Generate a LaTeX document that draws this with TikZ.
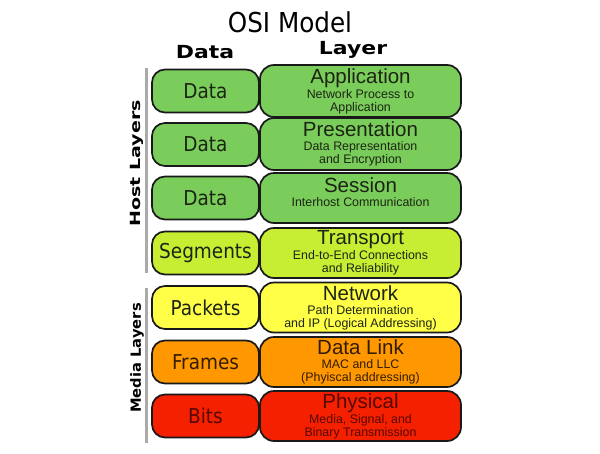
\documentclass[tikz,border=0pt]{standalone}
\usepackage{fontspec}
\setmainfont{Liberation Sans}
\newfontfamily\condfont{DejaVu Sans Condensed}
\newfontfamily\dvsfont{DejaVu Sans}
\definecolor{osigreen}{RGB}{122,205,90}
\definecolor{osilime}{RGB}{200,238,52}
\definecolor{osiyellow}{RGB}{255,255,72}
\definecolor{osiorange}{RGB}{255,152,0}
\definecolor{osired}{RGB}{245,32,0}
\definecolor{txtdark}{RGB}{28,36,20}
\definecolor{txtbrown}{RGB}{50,28,0}
\definecolor{txtred}{RGB}{85,8,0}
\definecolor{bargray}{RGB}{170,170,170}
\newcommand{\laytext}[2]{{\fontsize{20.5}{20}\selectfont #1}\\[1pt]#2}
\tikzset{
  x=1pt, y=-1pt,
  databox/.style={draw=black!90, line width=1.7pt, rounded corners=13pt,
    minimum width=107pt, minimum height=43pt, inner sep=0pt,
    font=\condfont\fontsize{20.5}{22}\selectfont, text=txtdark},
  layerbox/.style={draw=black!90, line width=1.7pt, rounded corners=14pt,
    minimum width=201pt, minimum height=50pt, inner sep=0pt, align=center,
    font=\fontsize{12.4}{13}\selectfont, text=txtdark},
  header/.style={font=\dvsfont\bfseries\fontsize{18}{20}\selectfont, inner sep=0pt},
  sidelabel/.style={font=\dvsfont\bfseries\fontsize{14}{16}\selectfont, inner sep=0pt, rotate=90},
  sidebar/.style={draw=bargray, line width=3pt}
}
\begin{document}
\begin{tikzpicture}
\path[use as bounding box, fill=white] (0,0) rectangle (600,453);
% title and headers
\node[font=\condfont\fontsize{27.4}{30}\selectfont, inner sep=0pt] (title) at (290,22) {OSI Model};
\node[header] (hdata) at (205,52) {\scalebox{1.22}[1]{Data}};
\node[header] (hlayer) at (353,50) {\scalebox{1.22}[1]{Layer}};
% side bars
\coordinate (hbtop) at (146,68);
\coordinate (hbbot) at (146,273);
\coordinate (mbtop) at (146,288);
\coordinate (mbbot) at (146,443);
\draw[sidebar] (hbtop) -- (hbbot);
\draw[sidebar] (mbtop) -- (mbbot);
\node[sidelabel] (host) at (136.5,163.5) {\scalebox{1.36}[1]{Host Layers}};
\node[sidelabel] (media) at (137,358) {\scalebox{1.05}[1]{Media Layers}};
% left data boxes
\node[databox, fill=osigreen] (d1) at (205.5,91) {Data};
\node[databox, fill=osigreen] (d2) at (205.5,144.5) {Data};
\node[databox, fill=osigreen] (d3) at (205.5,198) {Data};
\node[databox, fill=osilime] (d4) at (205.5,253) {Segments};
\node[databox, fill=osiyellow] (d5) at (205.5,307.5) {Packets};
\node[databox, fill=osiorange, text=txtbrown] (d6) at (205.5,362) {Frames};
\node[databox, fill=osired, text=txtred] (d7) at (205.5,416) {Bits};
% right layer boxes
\node[layerbox, fill=osigreen, minimum height=52pt] (l1) at (360.5,91) {\laytext{Application}{Network Process to\\Application}};
\node[layerbox, fill=osigreen, minimum height=52pt] (l2) at (360.5,144) {\laytext{Presentation}{Data Representation\\and Encryption}};
\node[layerbox, fill=osigreen, text depth=11pt] (l3) at (360.5,198) {\laytext{Session}{Interhost Communication}};
\node[layerbox, fill=osilime] (l4) at (360.5,253) {\laytext{Transport}{End-to-End Connections\\and Reliability}};
\node[layerbox, fill=osiyellow] (l5) at (360.5,307.5) {\laytext{Network}{Path Determination\\and IP (Logical Addressing)}};
\node[layerbox, fill=osiorange, text=txtbrown] (l6) at (360.5,362) {\laytext{Data Link}{MAC and LLC\\(Phyiscal addressing)}};
\node[layerbox, fill=osired, text=txtred] (l7) at (360.5,416) {\laytext{Physical}{Media, Signal, and\\Binary Transmission}};
\end{tikzpicture}
\end{document}
